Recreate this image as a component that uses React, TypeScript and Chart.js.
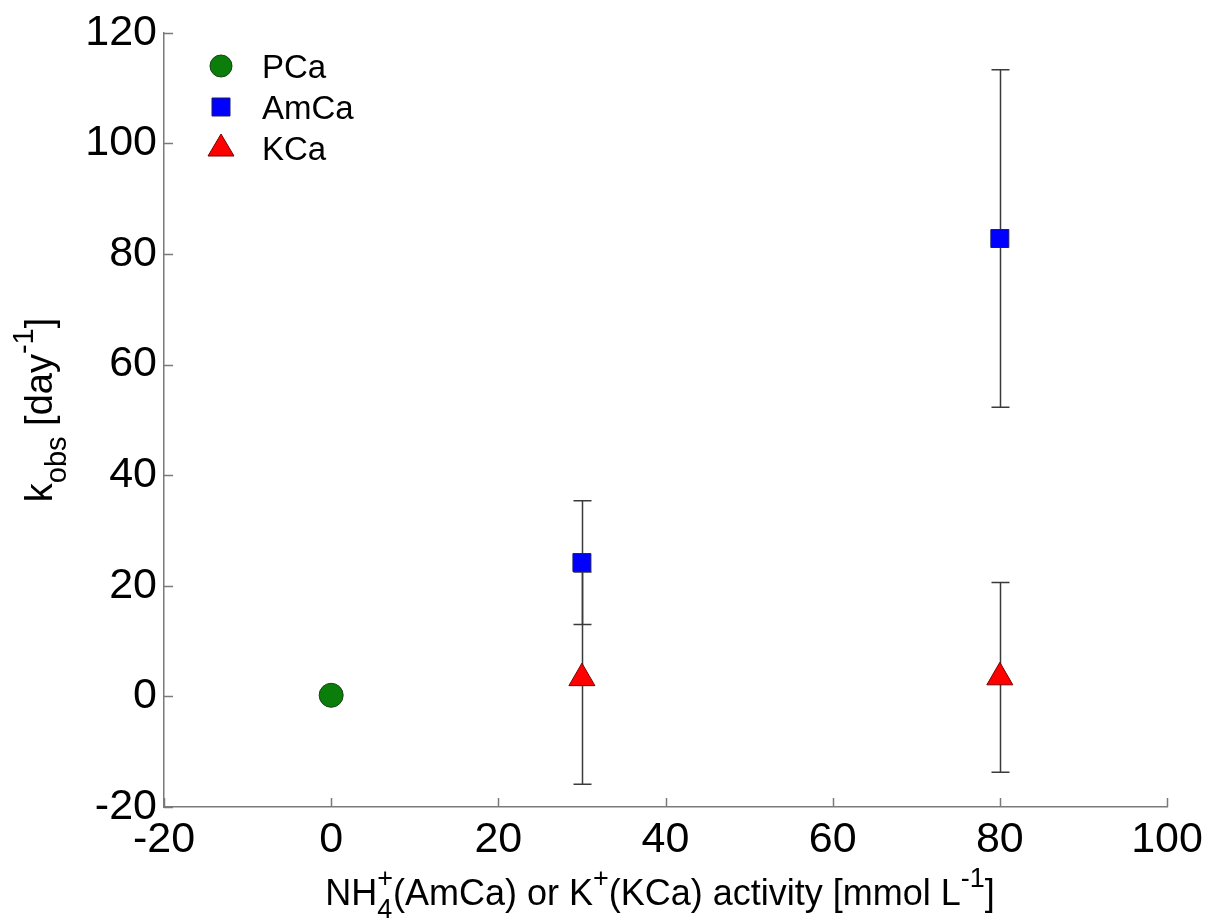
import React, { useEffect, useRef } from 'react';
import { Chart, registerables } from 'chart.js';

Chart.register(...registerables);

// ---- data ----
const pcaX = [0];
const pcaY = [0.2];
const amX = [30, 80];
const amY = [24.2, 82.8];
const amErr = [11.2, 30.5];
const kX = [30, 80];
const kY = [3.3, 3.45];
const kErr = [19.2, 17.15];
const xTicks = [-20, 0, 20, 40, 60, 80, 100];
const yTicks = [-20, 0, 20, 40, 60, 80, 100, 120];
const legendLabels = ['PCa', 'AmCa', 'KCa'];

const FONT = '"Liberation Sans", Arial, sans-serif';
const AXIS_COLOR = '#7a7a7a';

type Part = { t?: string; sub?: string; sup?: string };

function drawRich(ctx: CanvasRenderingContext2D, parts: Part[], size: number, small: number, measureOnly = false, x = 0, y = 0): number {
  let cx = x;
  for (const p of parts) {
    if (p.t) {
      ctx.font = `${size}px ${FONT}`;
      if (!measureOnly) ctx.fillText(p.t, cx, y);
      cx += ctx.measureText(p.t).width;
    } else {
      ctx.font = `${small}px ${FONT}`;
      let w = 0;
      if (p.sub) {
        if (!measureOnly) ctx.fillText(p.sub, cx, y + size * 0.36);
        w = Math.max(w, ctx.measureText(p.sub).width);
      }
      if (p.sup) {
        if (!measureOnly) ctx.fillText(p.sup, cx, y - size * 0.5);
        w = Math.max(w, ctx.measureText(p.sup).width);
      }
      cx += w;
    }
  }
  return cx - x;
}

const xTitle: Part[] = [
  { t: 'NH' },
  { sub: '4', sup: '+' },
  { t: '(AmCa) or K' },
  { sup: '+' },
  { t: '(KCa) activity [mmol L' },
  { sup: '-1' },
  { t: ']' },
];
const yTitle: Part[] = [
  { t: 'k' },
  { sub: 'obs' },
  { t: ' [day' },
  { sup: '-1' },
  { t: ']' },
];

function marker(ctx: CanvasRenderingContext2D, kind: number, x: number, y: number) {
  ctx.save();
  ctx.lineWidth = 1;
  ctx.beginPath();
  if (kind === 0) {
    ctx.fillStyle = '#0a7d0a';
    ctx.strokeStyle = '#124512';
    ctx.arc(x, y, 11, 0, Math.PI * 2);
  } else if (kind === 1) {
    ctx.fillStyle = '#0000ff';
    ctx.strokeStyle = '#1a1a70';
    ctx.rect(x - 9, y - 9, 18, 18);
  } else {
    ctx.fillStyle = '#ff0000';
    ctx.strokeStyle = '#7a0000';
    ctx.moveTo(x, y - 14);
    ctx.lineTo(x + 13, y + 8);
    ctx.lineTo(x - 13, y + 8);
    ctx.closePath();
  }
  ctx.fill();
  ctx.stroke();
  ctx.restore();
}

const customPlugin = {
  id: 'custom',
  beforeDatasetsDraw(chart: any) {
    const ctx: CanvasRenderingContext2D = chart.ctx;
    const xs = chart.scales.x;
    const ys = chart.scales.y;
    const area = chart.chartArea;
    ctx.save();
    // inward ticks
    ctx.strokeStyle = AXIS_COLOR;
    ctx.lineWidth = 1.5;
    for (const v of xTicks) {
      const px = Math.round(xs.getPixelForValue(v)) + 0.5;
      ctx.beginPath();
      ctx.moveTo(px, area.bottom);
      ctx.lineTo(px, area.bottom - 9);
      ctx.stroke();
    }
    for (const v of yTicks) {
      const py = Math.round(ys.getPixelForValue(v)) + 0.5;
      ctx.beginPath();
      ctx.moveTo(area.left, py);
      ctx.lineTo(area.left + 9, py);
      ctx.stroke();
    }
    // error bars
    ctx.strokeStyle = '#3a3a3a';
    ctx.lineWidth = 1.5;
    const sets: [number[], number[], number[]][] = [
      [amX, amY, amErr],
      [kX, kY, kErr],
    ];
    for (const [xv, yv, ev] of sets) {
      for (let i = 0; i < xv.length; i++) {
        const px = Math.round(xs.getPixelForValue(xv[i])) + 0.5;
        const top = ys.getPixelForValue(yv[i] + ev[i]);
        const bot = ys.getPixelForValue(yv[i] - ev[i]);
        ctx.beginPath();
        ctx.moveTo(px, top);
        ctx.lineTo(px, bot);
        ctx.moveTo(px - 9, top);
        ctx.lineTo(px + 9, top);
        ctx.moveTo(px - 9, bot);
        ctx.lineTo(px + 9, bot);
        ctx.stroke();
      }
    }
    ctx.restore();
  },
  afterDraw(chart: any) {
    const ctx: CanvasRenderingContext2D = chart.ctx;
    ctx.save();
    ctx.fillStyle = '#000';
    ctx.textBaseline = 'alphabetic';
    ctx.textAlign = 'left';
    // x title
    const wX = drawRich(ctx, xTitle, 36, 27, true);
    drawRich(ctx, xTitle, 36, 27, false, 660 - wX / 2, 905);
    // y title
    const wY = drawRich(ctx, yTitle, 38, 29, true);
    ctx.save();
    ctx.translate(52, 410);
    ctx.rotate(-Math.PI / 2);
    drawRich(ctx, yTitle, 38, 29, false, -wY / 2, 0);
    ctx.restore();
    // legend
    const ly = [66, 107, 148];
    for (let i = 0; i < legendLabels.length; i++) {
      marker(ctx, i, 221, ly[i]);
      ctx.font = `33px ${FONT}`;
      ctx.fillStyle = '#000';
      ctx.fillText(legendLabels[i], 262, ly[i] + 12);
    }
    ctx.restore();
  },
};

export default function App() {
  const ref = useRef<HTMLCanvasElement | null>(null);
  useEffect(() => {
    if (!ref.current) return;
    const chart = new Chart(ref.current, {
      type: 'scatter',
      data: {
        datasets: [
          {
            label: legendLabels[0],
            data: pcaX.map((x, i) => ({ x, y: pcaY[i] })),
            pointStyle: 'circle',
            pointRadius: 12,
            backgroundColor: '#0a7d0a',
            borderColor: '#124512',
            borderWidth: 1,
          },
          {
            label: legendLabels[1],
            data: amX.map((x, i) => ({ x, y: amY[i] })),
            pointStyle: 'rect',
            pointRadius: 12.7,
            backgroundColor: '#0000ff',
            borderColor: '#1a1a70',
            borderWidth: 1,
          },
          {
            label: legendLabels[2],
            data: kX.map((x, i) => ({ x, y: kY[i] })),
            pointStyle: 'triangle',
            pointRadius: 15,
            backgroundColor: '#ff0000',
            borderColor: '#7a0000',
            borderWidth: 1,
          },
        ],
      },
      options: {
        animation: false,
        responsive: false,
        devicePixelRatio: 1,
        layout: { padding: { left: 0, top: 31, right: 43, bottom: 0 } },
        plugins: {
          legend: { display: false },
          tooltip: { enabled: false },
        },
        scales: {
          x: {
            type: 'linear',
            min: -20,
            max: 100,
            afterFit: (s: any) => { s.height = 115; },
            afterBuildTicks: (s: any) => { s.ticks = xTicks.map((v) => ({ value: v })); },
            grid: { display: false, drawTicks: false },
            border: { display: true, color: AXIS_COLOR, width: 1.5 },
            ticks: {
              padding: 7,
              color: '#000',
              font: { family: FONT, size: 43 },
              maxRotation: 0,
              autoSkip: false,
              callback: (v: any) => String(v),
            },
          },
          y: {
            type: 'linear',
            min: -20,
            max: 120,
            afterFit: (s: any) => { s.width = 164; },
            afterBuildTicks: (s: any) => { s.ticks = yTicks.map((v) => ({ value: v })); },
            grid: { display: false, drawTicks: false },
            border: { display: true, color: AXIS_COLOR, width: 1.5 },
            ticks: {
              padding: 7,
              color: '#000',
              font: { family: FONT, size: 43 },
              autoSkip: false,
              callback: (v: any) => String(v),
            },
          },
        },
      },
      plugins: [customPlugin],
    });
    return () => chart.destroy();
  }, []);
  return (
    <div style={{ position: 'absolute', left: 0, top: 0, width: 1210, height: 922, background: '#fff' }}>
      <canvas ref={ref} width={1210} height={922} style={{ display: 'block' }} />
    </div>
  );
}
